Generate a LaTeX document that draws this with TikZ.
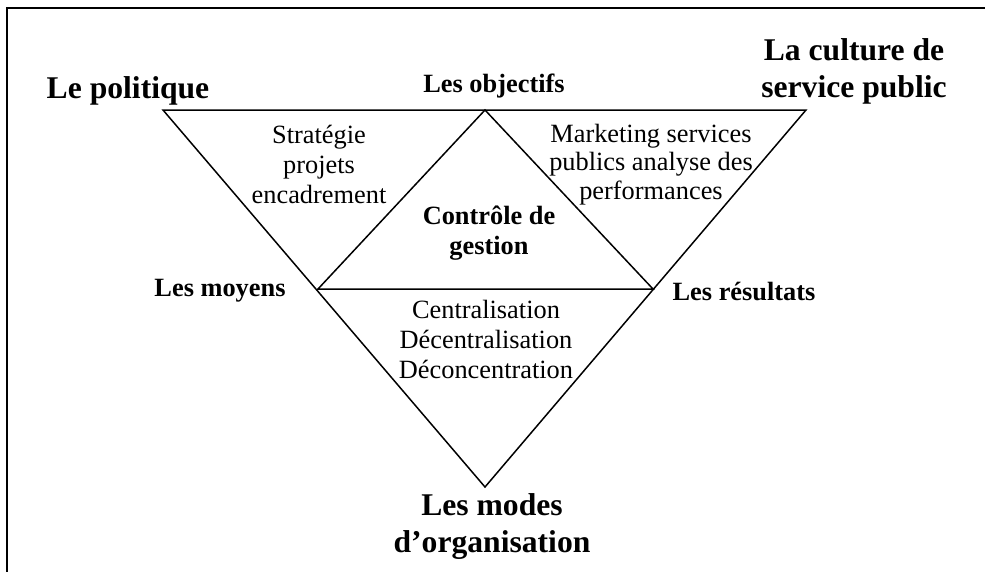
\documentclass[tikz,border=0pt]{standalone}
\usepackage{fontspec}
\setmainfont{Liberation Serif}
\definecolor{ink}{HTML}{000000}

\begin{document}
\begin{tikzpicture}[x=0.02cm,y=-0.02cm,
  edge/.style={draw=ink,line width=0.85pt},
  frame/.style={draw=ink,line width=1.2pt},
  big/.style={font=\fontsize{18}{21}\selectfont\bfseries,align=center,anchor=base,inner sep=0pt},
  lbl/.style={font=\fontsize{15}{17}\selectfont\bfseries,align=center,anchor=base,inner sep=0pt},
  txt/.style={font=\fontsize{15}{17}\selectfont,align=center,anchor=base,inner sep=0pt}]
\useasboundingbox (0,0) rectangle (985,572);
\draw[frame] (7,572) -- (7,8) -- (985,8);
\coordinate (pol) at (163,110);
\coordinate (obj) at (485,110);
\coordinate (cult) at (806,110);
\coordinate (moy) at (318,289);
\coordinate (res) at (653,289);
\coordinate (org) at (485,487);
\draw[edge] (pol)--(cult)--(org)--cycle;
\draw[edge] (obj)--(moy)--(res)--cycle;
% multi-line nodes sit on the baseline of their last line
\node[big] (politique) at (128,98) {Le politique};
\node[big] (culture) at (854,97) {La culture de\\service public};
\node[big] (modes) at (492,552) {Les modes\\d’organisation};
\node[lbl] (objectifs) at (494,92) {Les objectifs};
\node[lbl] (moyens) at (220,296) {Les moyens};
\node[lbl] (resultats) at (744,300) {Les résultats};
\node[lbl] (controle) at (489,254) {Contrôle de\\gestion};
\node[txt] (strategie) at (319,203) {Stratégie\\projets\\encadrement};
\node[txt,font=\fontsize{15}{16}\selectfont] (marketing) at (651,199) {Marketing services\\publics analyse des\\performances};
\node[txt] (central) at (486,378) {Centralisation\\Décentralisation\\Déconcentration};
\end{tikzpicture}
\end{document}
